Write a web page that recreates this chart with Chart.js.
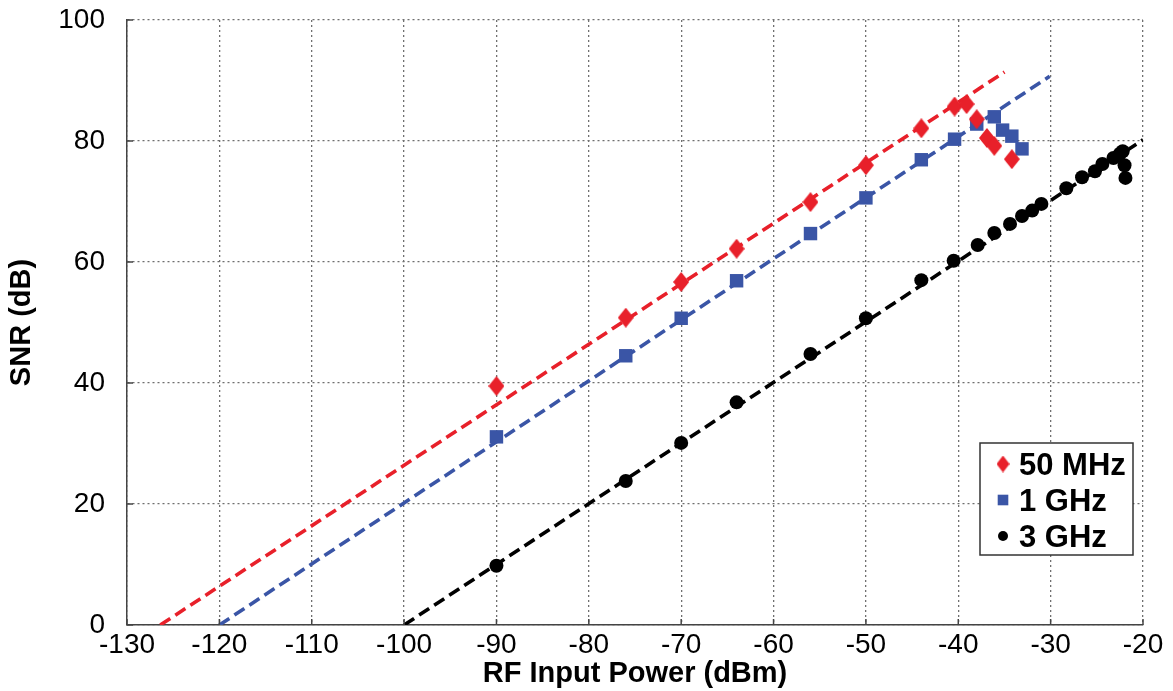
<!DOCTYPE html>
<html>
<head>
<meta charset="utf-8">
<script src="https://cdn.jsdelivr.net/npm/chart.js@4/dist/chart.umd.min.js"></script>
<style>
  html, body { margin: 0; padding: 0; background: #fff; }
  #wrap { width: 1173px; height: 691px; }
</style>
</head>
<body>
<div id="wrap"><canvas id="c" width="1173" height="691"></canvas></div>
<script>
// ---- data ----
const xTicks = [-130, -120, -110, -100, -90, -80, -70, -60, -50, -40, -30, -20];
const yTicks = [0, 20, 40, 60, 80, 100];

const labels = ['50 MHz', '1 GHz', '3 GHz'];

const x50 = [-90, -76, -70, -64, -56, -50, -44, -40.4, -39.1, -38, -36.9, -36.1, -34.2];
const y50 = [39.5, 50.8, 56.7, 62.2, 69.9, 76.0, 82.1, 85.7, 86.1, 83.6, 80.5, 79.2, 77.0];

const x1G = [-90, -76, -70, -64, -56, -50, -44, -40.4, -38, -36.1, -35.2, -34.2, -33.1];
const y1G = [31.1, 44.5, 50.7, 56.9, 64.7, 70.6, 76.9, 80.3, 82.8, 84.0, 81.8, 80.8, 78.7];

const x3G = [-90, -76, -70, -64, -56, -50, -44, -40.5, -37.9, -36.1, -34.4, -33.1, -32, -31, -28.3, -26.6, -25.2, -24.4, -23.2, -22.5, -22.2, -22, -21.9];
const y3G = [9.8, 23.8, 30.1, 36.8, 44.8, 50.7, 57.0, 60.2, 62.8, 64.8, 66.3, 67.6, 68.5, 69.6, 72.2, 74.0, 75.0, 76.2, 77.2, 77.9, 78.3, 76.0, 73.9];

// dashed linear fits (end points)
const fit50X = [-126.4, -35];
const fit50Y = [0, 91.4];
const fit1GX = [-120, -30.1];
const fit1GY = [0, 90.7];
const fit3GX = [-100, -20];
const fit3GY = [0, 80.2];

// ---- styling ----
const RED = '#e8202a', BLUE = '#3a55a6', BLACK = '#000000';
const FONT = "'Liberation Sans', Arial, sans-serif";

function diamond(w, h, color) {
  const c = document.createElement('canvas');
  c.width = w; c.height = h;
  const g = c.getContext('2d');
  g.fillStyle = color;
  g.beginPath();
  g.moveTo(w / 2, 0); g.lineTo(w, h / 2); g.lineTo(w / 2, h); g.lineTo(0, h / 2);
  g.closePath(); g.fill();
  return c;
}
const redDiamond = diamond(16, 20, RED);
const redDiamondSmall = diamond(13, 17, RED);

const pts = (xs, ys) => xs.map((x, i) => ({ x: x, y: ys[i] }));

const pointDs = (label, xs, ys, color, style, r, legendStyle) => ({
  label: label, data: pts(xs, ys), showLine: false,
  pointStyle: style, pointRadius: r, pointHoverRadius: r,
  backgroundColor: color, borderColor: color, borderWidth: 0, order: 0,
  legendStyle: legendStyle || style
});
const fitDs = (xs, ys, color) => ({
  label: '', data: pts(xs, ys), showLine: true, pointRadius: 0,
  borderColor: color, borderWidth: 3.6, borderDash: [12, 6], fill: false, order: 1
});

const legendPlugin = {
  id: 'boxLegend',
  afterDraw(chart) {
    const ctx = chart.ctx, ca = chart.chartArea;
    const items = chart.data.datasets.filter(d => d.label);
    const L = ca.right - 163, T = ca.top + 423, W = 153, H = 112;
    ctx.save();
    ctx.fillStyle = '#fff';
    ctx.fillRect(L, T, W, H);
    ctx.strokeStyle = '#333';
    ctx.lineWidth = 1.5;
    ctx.strokeRect(L, T, W, H);
    ctx.font = 'bold 31px ' + FONT;
    ctx.textBaseline = 'middle';
    ctx.textAlign = 'left';
    items.forEach((d, i) => {
      const y = T + 21 + i * 36;
      ctx.fillStyle = d.backgroundColor;
      ctx.strokeStyle = d.borderColor;
      Chart.helpers.drawPoint(ctx, { pointStyle: d.legendStyle, radius: d.pointRadius - 2, rotation: 0, borderWidth: 0 }, L + 23, y);
      ctx.fillStyle = '#000';
      ctx.fillText(d.label, L + 39, y + 2);
    });
    ctx.restore();
  }
};

const innerTicks = {
  id: 'innerTicks',
  afterDatasetsDraw(chart) {
    const ctx = chart.ctx, ca = chart.chartArea;
    const ys = chart.scales.y, xs = chart.scales.x;
    ctx.save();
    ctx.strokeStyle = '#444';
    ctx.lineWidth = 1.5;
    ys.ticks.forEach(t => {
      const p = ys.getPixelForValue(t.value);
      ctx.beginPath(); ctx.moveTo(ca.left, p); ctx.lineTo(ca.left + 6, p); ctx.stroke();
    });
    xs.ticks.forEach(t => {
      const p = xs.getPixelForValue(t.value);
      ctx.beginPath(); ctx.moveTo(p, ca.bottom); ctx.lineTo(p, ca.bottom - 6); ctx.stroke();
    });
    ctx.restore();
  }
};

new Chart(document.getElementById('c'), {
  type: 'scatter',
  data: {
    datasets: [
      pointDs(labels[0], x50, y50, RED, redDiamond, 8, redDiamondSmall),
      pointDs(labels[1], x1G, y1G, BLUE, 'rect', 9.5),
      pointDs(labels[2], x3G, y3G, BLACK, 'circle', 7),
      fitDs(fit50X, fit50Y, RED),
      fitDs(fit1GX, fit1GY, BLUE),
      fitDs(fit3GX, fit3GY, BLACK)
    ]
  },
  options: {
    responsive: false,
    animation: false,
    layout: { padding: { left: 0, right: 30, top: 20, bottom: 0 } },
    plugins: { legend: { display: false }, tooltip: { enabled: false } },
    scales: {
      x: {
        type: 'linear', min: -130, max: -20,
        afterBuildTicks(s) { s.ticks = xTicks.map(v => ({ value: v })); },
        afterFit(s) { s.height = 66; s.paddingLeft = 0; s.paddingRight = 0; },
        ticks: { font: { family: FONT, size: 28 }, color: '#000', padding: 3 },
        grid: { color: '#6f6f6f', lineWidth: 1.3, drawTicks: false },
        border: { display: true, color: '#444', width: 1.5, dash: [2, 3] },
        title: { display: true, text: 'RF Input Power (dBm)', color: '#000',
                 font: { family: FONT, size: 29, weight: 'bold' }, padding: { top: 0, bottom: 0 } }
      },
      y: {
        type: 'linear', min: 0, max: 100,
        afterBuildTicks(s) { s.ticks = yTicks.map(v => ({ value: v })); },
        afterFit(s) { s.width = 127; s.paddingTop = 0; s.paddingBottom = 0; },
        ticks: { font: { family: FONT, size: 28 }, color: '#000', padding: 22 },
        grid: { color: '#6f6f6f', lineWidth: 1.3, drawTicks: false },
        border: { display: true, color: '#444', width: 1.5, dash: [2, 3] },
        title: { display: true, text: 'SNR (dB)', color: '#000',
                 font: { family: FONT, size: 29, weight: 'bold' }, padding: { top: 5, bottom: 0 } }
      }
    }
  },
  plugins: [innerTicks, legendPlugin]
});
</script>
</body>
</html>
